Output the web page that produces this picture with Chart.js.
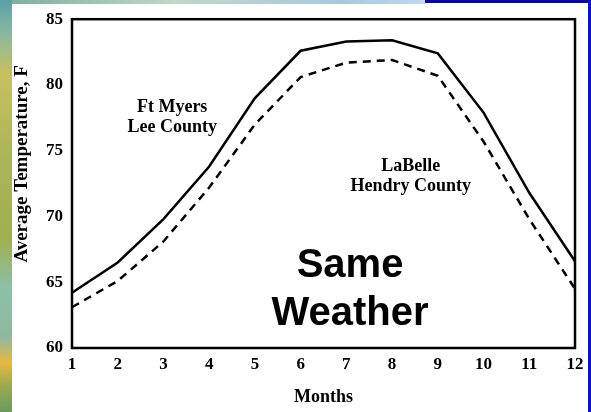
<!DOCTYPE html>
<html>
<head>
<meta charset="utf-8">
<script src="https://cdn.jsdelivr.net/npm/chart.js@4"></script>
<style>
  html, body { margin: 0; padding: 0; width: 591px; height: 412px; overflow: hidden; }
  body { position: relative; background: #ffffff; }
  #leftstrip { position: absolute; left: 0; top: 0; width: 12px; height: 412px;
    background: linear-gradient(to bottom, #5aa0a8 0%, #88b8a0 8%, #c8c060 18%, #a8b458 40%, #a0b050 58%, #8cc0a8 70%, #90b8a0 82%, #e8b840 88%, #98a850 94%, #6a9a60 100%); }
  #topstrip { position: absolute; left: 12px; top: 0; width: 413px; height: 4px;
    background: linear-gradient(to right, #80b0a0, #c0d8c8 40%, #a8c8e0 80%, #c0d8f0); }
  #topblue { position: absolute; left: 425px; top: 0; width: 166px; height: 3px; background: #08089a; }
  #rightblue { position: absolute; left: 588px; top: 0; width: 3px; height: 412px; background: #1010c0; }
  #wrap { position: absolute; left: 0; top: 0; width: 591px; height: 412px; }
</style>
</head>
<body>
<div id="leftstrip"></div>
<div id="topstrip"></div>
<div id="topblue"></div>
<div id="rightblue"></div>
<div id="wrap"><canvas id="c" width="591" height="412"></canvas></div>
<script>
const months = ['1','2','3','4','5','6','7','8','9','10','11','12'];
const ftMyers = [64.2, 66.5, 69.8, 73.8, 79.0, 82.6, 83.3, 83.4, 82.4, 77.9, 71.8, 66.6];
const laBelle = [63.1, 65.1, 68.1, 72.2, 77.0, 80.6, 81.7, 81.9, 80.7, 75.7, 69.8, 64.5];
const yTicks = [60, 65, 70, 75, 80, 85];
const yTitle = 'Average Temperature, F';
const labels = [
  { lines: ['Ft Myers', 'Lee County'], x: 3.19, y: 78.3, font: 'bold 18px "Liberation Serif"', gap: 20 },
  { lines: ['LaBelle', 'Hendry County'], x: 8.41, y: 73.8, font: 'bold 18px "Liberation Serif"', gap: 20 },
  { lines: ['Same', 'Weather'], x: 7.08, y: 66.2, font: 'bold 40px "Liberation Sans"', gap: 48 }
];

const frame = {
  id: 'frame',
  afterDatasetsDraw(chart) {
    const { ctx, chartArea: a } = chart;
    ctx.save();
    ctx.strokeStyle = '#000';
    ctx.lineWidth = 2.5;
    ctx.strokeRect(a.left, a.top, a.right - a.left, a.bottom - a.top);
    ctx.restore();
  },
  afterDraw(chart) {
    const { ctx } = chart;
    const xs = chart.scales.x, ys = chart.scales.y;
    ctx.save();
    ctx.fillStyle = '#000';
    ctx.textAlign = 'center';
    ctx.textBaseline = 'middle';
    labels.forEach(l => {
      ctx.font = l.font;
      const px = xs.getPixelForValue(l.x - 1);
      const py = ys.getPixelForValue(l.y);
      l.lines.forEach((t, i) => ctx.fillText(t, px, py + i * l.gap));
    });
    // y-axis title
    ctx.font = 'bold 19px "Liberation Serif"';
    ctx.translate(22, ys.getPixelForValue(74.0));
    ctx.rotate(-Math.PI / 2);
    ctx.fillText(yTitle, 0, 0);
    ctx.restore();
  }
};

new Chart(document.getElementById('c'), {
  type: 'line',
  data: {
    labels: months,
    datasets: [
      { label: 'Ft Myers', data: ftMyers, borderColor: '#000', borderWidth: 2.5, pointRadius: 0, tension: 0, fill: false },
      { label: 'LaBelle', data: laBelle, borderColor: '#000', borderWidth: 2.5, borderDash: [8, 6], pointRadius: 0, tension: 0, fill: false }
    ]
  },
  options: {
    responsive: false,
    animation: false,
    layout: { padding: { top: 13, right: 16, left: 0, bottom: 0 } },
    plugins: { legend: { display: false }, tooltip: { enabled: false } },
    scales: {
      x: {
        offset: false,
        grid: { display: false, drawTicks: false },
        border: { display: false },
        ticks: { color: '#000', font: { family: 'Liberation Serif', weight: 'bold', size: 17 }, padding: 6, maxRotation: 0, autoSkip: false },
        title: { display: true, text: 'Months', color: '#000', font: { family: 'Liberation Serif', weight: 'bold', size: 18 }, padding: { top: 10, bottom: 4 } },
        afterFit(s) { s.height = 64; }
      },
      y: {
        min: 60, max: 85,
        afterBuildTicks(s) { s.ticks = yTicks.map(v => ({ value: v })); },
        grid: { display: false, drawTicks: false },
        border: { display: false },
        ticks: { color: '#000', font: { family: 'Liberation Serif', weight: 'bold', size: 17 }, padding: 9 },
        title: { display: false },
        afterFit(s) { s.width = 72; }
      }
    }
  },
  plugins: [frame]
});
</script>
</body>
</html>
